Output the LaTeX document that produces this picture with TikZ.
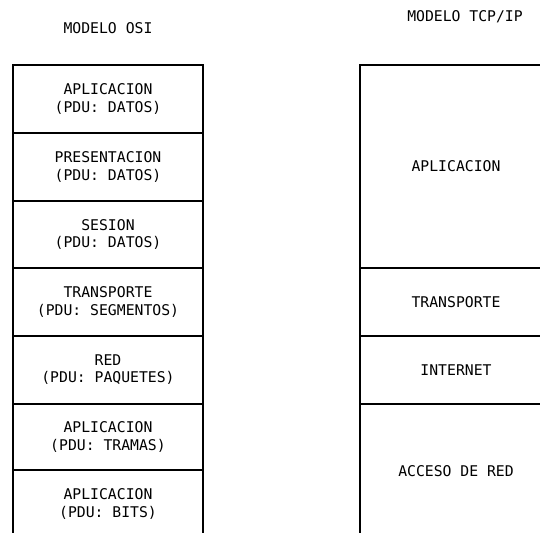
\documentclass[tikz,border=0pt]{standalone}
\usepackage{fontspec}
\newfontfamily\cadfont{DejaVu Sans Mono}
\usetikzlibrary{positioning}

\begin{document}
\begin{tikzpicture}[x=0.02cm,y=-0.02cm,every node/.style={font=\cadfont\fontsize{8.4}{9.7}\selectfont}]
  \tikzstyle{capa}=[draw,line width=1pt,minimum width=3.8cm,align=center,inner sep=0pt]
  \tikzstyle{capatcp}=[draw,line width=1pt,minimum width=3.84cm,align=center,inner sep=0pt]
  \useasboundingbox (0,0) rectangle (540,533);
  \clip (0,0) rectangle (540,533);

  % -- titulos --
  \node (tosi) at (108,28) {MODELO OSI};
  \node (ttcp) at (465,17) {MODELO TCP/IP};

  % -- Modelo OSI (7 capas) --
  \node[capa,minimum height=1.36cm] (osi7) at (108,99) {APLICACION\\(PDU: DATOS)};
  \node[capa,minimum height=1.36cm] (osi6) at (108,167) {PRESENTACION\\(PDU: DATOS)};
  \node[capa,minimum height=1.34cm] (osi5) at (108,234.5) {SESION\\(PDU: DATOS)};
  \node[capa,minimum height=1.36cm] (osi4) at (108,302) {TRANSPORTE\\(PDU: SEGMENTOS)};
  \node[capa,minimum height=1.36cm] (osi3) at (108,370) {RED\\(PDU: PAQUETES)};
  \node[capa,minimum height=1.32cm] (osi2) at (108,437) {APLICACION\\(PDU: TRAMAS)};
  \node[capa,minimum height=1.36cm] (osi1) at (108,504) {APLICACION\\(PDU: BITS)};

  % -- Modelo TCP/IP (4 capas) --
  \node[capatcp,minimum height=4.06cm] (tcp4) at (456,166.5) {APLICACION};
  \node[capatcp,minimum height=1.36cm] (tcp3) at (456,302) {TRANSPORTE};
  \node[capatcp,minimum height=1.36cm] (tcp2) at (456,370) {INTERNET};
  \node[capatcp,minimum height=2.68cm] (tcp1) at (456,471) {ACCESO DE RED};
\end{tikzpicture}
\end{document}
